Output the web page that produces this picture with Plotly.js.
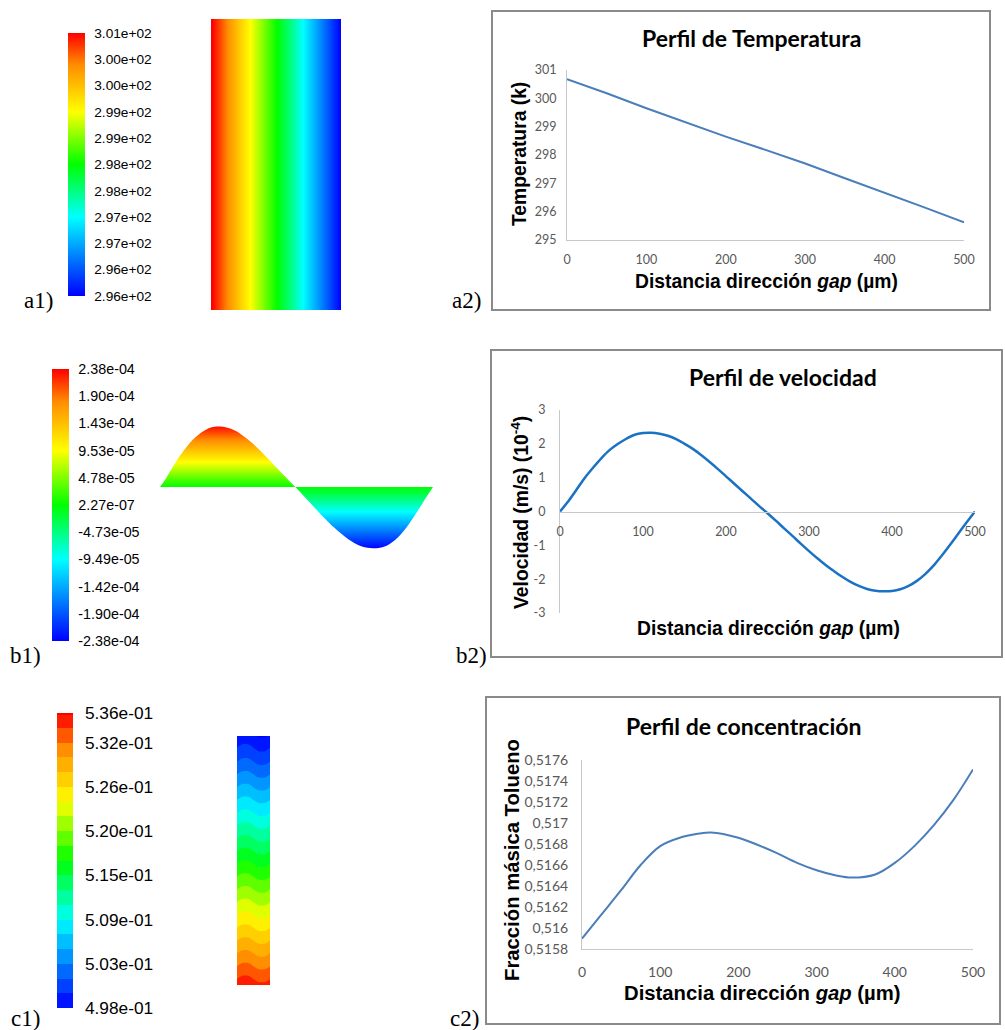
<!DOCTYPE html>
<html><head><meta charset="utf-8">
<script src="https://cdn.plot.ly/plotly-3.0.1.min.js"></script>
<style>html,body{margin:0;padding:0;background:#fff;}#chart{width:1005px;height:1030px;}</style>
</head><body><div id="chart"></div>
<script>
// ---------------- data ----------------
// a) temperature profile along the gap (um, K)
const tempX = [0, 50, 100, 150, 200, 250, 300, 350, 400, 450, 500];
const tempK = [300.68, 300.18, 299.65, 299.15, 298.65, 298.18, 297.70, 297.18, 296.67, 296.15, 295.62];
const tempBarVals = [295.65, 296.15, 296.65, 297.15, 297.65, 298.15, 298.65, 299.15, 299.65, 300.15, 300.65];
const tempBarText = ['2.96e+02','2.96e+02','2.97e+02','2.97e+02','2.98e+02','2.98e+02','2.99e+02','2.99e+02','3.00e+02','3.00e+02','3.01e+02'];

// b) velocity profile (units of 1e-4 m/s)
const velX = [0,10,20,30,40,50,60,70,80,90,100,110,120,130,140,150,160,170,180,190,200,210,220,230,240,250,260,270,280,290,300,310,320,330,340,350,360,370,380,390,400,410,420,430,440,450,460,470,480,490,500];
const velV = [0,0.30,0.65,1.00,1.30,1.58,1.82,2.00,2.15,2.27,2.32,2.33,2.30,2.24,2.14,2.00,1.85,1.67,1.47,1.26,1.04,0.82,0.60,0.38,0.16,-0.05,-0.27,-0.50,-0.72,-0.95,-1.17,-1.38,-1.58,-1.76,-1.93,-2.08,-2.20,-2.29,-2.34,-2.36,-2.35,-2.30,-2.20,-2.05,-1.85,-1.60,-1.30,-0.98,-0.65,-0.32,0];
const velTickVals = [-3,-2,-1,0,1,2,3];
const velTickText = ['-3','-2','-1','0','1','2','3'];
const velBarVals = [-2.38,-1.904,-1.428,-0.952,-0.476,0.00227,0.476,0.952,1.428,1.904,2.38];
const velBarText = ['-2.38e-04','-1.90e-04','-1.42e-04','-9.49e-05','-4.73e-05','2.27e-07','4.78e-05','9.53e-05','1.43e-04','1.90e-04','2.38e-04'];

// c) toluene mass fraction profile
const concX = [0,25,50,75,100,125,150,165,200,225,250,275,300,325,345,375,400,425,450,475,500];
const concY = [0.51590,0.51613,0.51636,0.51660,0.51678,0.51686,0.51690,0.51691,0.51686,0.51679,0.51671,0.51662,0.51655,0.51650,0.51648,0.51651,0.51662,0.51678,0.51698,0.51722,0.51751];
const concTickVals = [0.5158,0.516,0.5162,0.5164,0.5166,0.5168,0.517,0.5172,0.5174,0.5176];
const concTickText = ['0,5158','0,516','0,5162','0,5164','0,5166','0,5168','0,517','0,5172','0,5174','0,5176'];
// c1 contour field (columns across the strip, rows from bottom to top)
const fieldX = [0,1,2,3,4,5,6,7,8];
const fieldY = [0,1,2,3,4,5,6,7,8,9,10];
const fieldZ = [
  [0.5350,0.5354,0.5355,0.5354,0.5350,0.5346,0.5345,0.5346,0.5350],
  [0.5313,0.5317,0.5318,0.5317,0.5313,0.5309,0.5308,0.5309,0.5313],
  [0.5276,0.5280,0.5281,0.5280,0.5276,0.5272,0.5271,0.5272,0.5276],
  [0.5239,0.5243,0.5244,0.5243,0.5239,0.5235,0.5234,0.5235,0.5239],
  [0.5202,0.5206,0.5207,0.5206,0.5202,0.5198,0.5197,0.5198,0.5202],
  [0.5165,0.5169,0.5170,0.5169,0.5165,0.5161,0.5160,0.5161,0.5165],
  [0.5128,0.5132,0.5133,0.5132,0.5128,0.5124,0.5123,0.5124,0.5128],
  [0.5091,0.5095,0.5096,0.5095,0.5091,0.5087,0.5086,0.5087,0.5091],
  [0.5054,0.5058,0.5059,0.5058,0.5054,0.5050,0.5049,0.5050,0.5054],
  [0.5017,0.5021,0.5022,0.5021,0.5017,0.5013,0.5012,0.5013,0.5017],
  [0.4983,0.4987,0.4988,0.4987,0.4983,0.4979,0.4978,0.4979,0.4983]
];
const concBarVals = [0.498,0.5037,0.5094,0.5151,0.5208,0.5265,0.5322,0.536];
const concBarText = ['4.98e-01','5.03e-01','5.09e-01','5.15e-01','5.20e-01','5.26e-01','5.32e-01','5.36e-01'];

// ---------------- layout helpers ----------------
const W = 1005, H = 1030;
const px = v => v / W;
const py = v => 1 - v / H;
const dx = (a, b) => [px(a), px(b)];
const dy = (top, bottom) => [py(bottom), py(top)];

const jet = [[0,'rgb(0,0,255)'],[0.3,'rgb(0,255,255)'],[0.5,'rgb(0,255,0)'],[0.7,'rgb(255,255,0)'],[0.88,'rgb(255,140,0)'],[1,'rgb(255,0,0)']];
const arial = 'Liberation Sans, Arial, sans-serif';
const tickFont = {family:'Lato, Calibri, sans-serif', size:12.5, color:'#595959'};
const lineBlue = '#4a7ebb';

function cb(xLeft, yTop, lenPx, thick, vals, text, size, gap) {
  return {x:px(xLeft), xanchor:'left', xref:'paper', y:py(yTop), yanchor:'top', yref:'paper',
    len:lenPx, lenmode:'pixels', thickness:thick, thicknessmode:'pixels', xpad:0, ypad:0,
    outlinewidth:0, ticks:'outside', ticklen:gap, tickcolor:'rgba(0,0,0,0)',
    tickvals:vals, ticktext:text, tickfont:{family:arial, size:size, color:'#000'}};
}

const traces = [
  // a2 temperature line
  {type:'scatter', mode:'lines', x:tempX, y:tempK, xaxis:'x', yaxis:'y',
   line:{color:lineBlue, width:2}, showlegend:false},
  // b2 velocity line
  {type:'scatter', mode:'lines', x:velX, y:velV, xaxis:'x2', yaxis:'y2',
   line:{color:'#1a72c4', width:2.5, shape:'spline'}, showlegend:false},
  // c2 concentration line
  {type:'scatter', mode:'lines', x:concX, y:concY, xaxis:'x3', yaxis:'y3',
   line:{color:lineBlue, width:2, shape:'spline'}, showlegend:false},
  // a1 temperature field
  {type:'heatmap', x:tempX, y:[0,1], z:[tempK, tempK], xaxis:'x4', yaxis:'y4',
   zsmooth:'best', colorscale:jet, zmin:295.65, zmax:300.65, showscale:true,
   colorbar:cb(68, 33, 263, 17, tempBarVals, tempBarText, 13.7, 7)},
  // b1 velocity field shape
  {type:'scatter', mode:'none', x:velX, y:velV, xaxis:'x5', yaxis:'y5', fill:'tozeroy',
   line:{shape:'spline', width:0},
   fillgradient:{type:'vertical', colorscale:jet, start:-2.38, stop:2.38}, showlegend:false},
  // b1 colour scale
  {type:'scatter', mode:'markers', x:velX, y:velV, xaxis:'x5', yaxis:'y5', showlegend:false,
   hoverinfo:'skip',
   marker:{size:1, opacity:0, color:velV, colorscale:jet, cmin:-2.38, cmax:2.38, showscale:true,
     colorbar:cb(52, 369, 272, 17, velBarVals, velBarText, 14.3, 7)}},
  // c1 concentration field
  {type:'contour', x:fieldX, y:fieldY, z:fieldZ, xaxis:'x6', yaxis:'y6',
   colorscale:jet, zmin:0.498, zmax:0.536, autocontour:false,
   contours:{start:0.498, end:0.536, size:0.0019, coloring:'fill', showlines:false},
   line:{width:0, smoothing:1.3}, showscale:true,
   colorbar:cb(57, 713, 295, 16, concBarVals, concBarText, 17.3, 9)}
];

const hidden = {showgrid:false, zeroline:false, showticklabels:false, showline:false, ticks:''};
const lineAx = {showgrid:false, zeroline:false, showline:true, linecolor:'#c8c8c8', linewidth:1,
  ticks:'outside', ticklen:8, tickcolor:'rgba(0,0,0,0)', tickfont:tickFont};

const layout = {
  width:W, height:H, margin:{l:0,r:0,t:0,b:0,autoexpand:false},
  paper_bgcolor:'#fff', plot_bgcolor:'rgba(0,0,0,0)', showlegend:false,
  xaxis: Object.assign({}, lineAx, {domain:dx(567,964), range:[0,500], dtick:100, anchor:'y'}),
  yaxis: Object.assign({}, lineAx, {domain:dy(70,240), range:[295,301], dtick:1, anchor:'x', ticklen:7}),
  xaxis2: Object.assign({}, lineAx, {domain:dx(560,975), range:[0,500], dtick:100, anchor:'free', position:py(511.5), ticklen:8}),
  yaxis2: Object.assign({}, lineAx, {domain:dy(410,613), range:[-3,3], tickvals:velTickVals, ticktext:velTickText, anchor:'x2', ticklen:11}),
  xaxis3: Object.assign({}, lineAx, {domain:dx(582,973), range:[0,500], dtick:100, anchor:'y3', ticklen:10,
    tickfont:{family:'Lato, Calibri, sans-serif', size:14, color:'#595959'}}),
  yaxis3: Object.assign({}, lineAx, {domain:dy(760,949), range:[0.5158,0.5176], tickvals:concTickVals, ticktext:concTickText, anchor:'x3', ticklen:10,
    tickfont:{family:'Lato, Calibri, sans-serif', size:14, color:'#595959'}}),
  xaxis4: Object.assign({}, hidden, {domain:dx(211,341), range:[0,500], anchor:'y4'}),
  yaxis4: Object.assign({}, hidden, {domain:dy(19,310), range:[0,1], anchor:'x4'}),
  xaxis5: Object.assign({}, hidden, {domain:dx(160,433), range:[0,500], anchor:'y5'}),
  yaxis5: Object.assign({}, hidden, {domain:dy(409,565), range:[-3,3], anchor:'x5'}),
  xaxis6: Object.assign({}, hidden, {domain:dx(237,270), range:[0,8], anchor:'y6'}),
  yaxis6: Object.assign({}, hidden, {domain:dy(736,985), range:[0,10], anchor:'x6'}),
  shapes: [
    {type:'rect', xref:'paper', yref:'paper', x0:px(492), x1:px(990), y0:py(310), y1:py(11), line:{color:'#8a8a8a', width:2}},
    {type:'rect', xref:'paper', yref:'paper', x0:px(491), x1:px(1002), y0:py(657), y1:py(350), line:{color:'#8a8a8a', width:2}},
    {type:'rect', xref:'paper', yref:'paper', x0:px(486), x1:px(1000), y0:py(1024), y1:py(697), line:{color:'#8a8a8a', width:2}}
  ],
  annotations: []
};

function ann(text, x, y, font, extra) {
  layout.annotations.push(Object.assign({text:text, x:px(x), y:py(y), xref:'paper', yref:'paper',
    xanchor:'center', yanchor:'middle', showarrow:false, font:font}, extra || {}));
}
const titleFont = {family:'Lato, Calibri, sans-serif', size:23, color:'#000'};
const axFont = {family:arial, size:19.3, color:'#000'};
const axFontC = {family:arial, size:20.3, color:'#000'};
const panelFont = {family:'Liberation Serif, serif', size:23, color:'#000'};
const xt = '<b>Distancia dirección <i>gap</i> (µm)</b>';

ann('<b>Perfil de Temperatura</b>', 751, 38, titleFont);
ann(xt, 766, 282, axFont);
ann('<b>Temperatura (k)</b>', 519, 154, axFont, {textangle:-90});

ann('<b>Perfil de velocidad</b>', 783, 377, titleFont);
ann(xt, 768, 628, axFont);
ann('<b>Velocidad (m/s) (10<sup>-4</sup>)</b>', 520, 513, axFont, {textangle:-90});

ann('<b>Perfil de concentración</b>', 743, 726, titleFont);
ann(xt, 762, 993, axFontC);
ann('<b>Fracción másica Tolueno</b>', 512, 860, axFontC, {textangle:-90});

ann('a1)', 38, 300, panelFont);
ann('a2)', 466, 300, panelFont);
ann('b1)', 25, 655, panelFont);
ann('b2)', 471, 655, panelFont);
ann('c1)', 25, 1018, panelFont);
ann('c2)', 464, 1018, panelFont);

Plotly.newPlot('chart', traces, layout, {displayModeBar:false, staticPlot:true});
</script>
</body></html>
